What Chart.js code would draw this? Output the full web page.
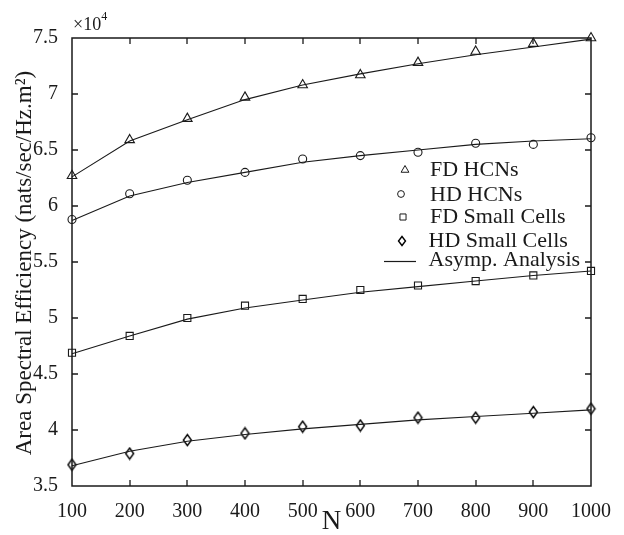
<!DOCTYPE html>
<html>
<head>
<meta charset="utf-8">
<script src="https://cdn.jsdelivr.net/npm/chart.js@4.4.1/dist/chart.umd.min.js"></script>
<style>
  html, body { margin: 0; padding: 0; background: #fff; }
</style>
</head>
<body>
<canvas id="chart" width="624" height="535"></canvas>
<script>
// N values on the x axis
const nValues = [100, 200, 300, 400, 500, 600, 700, 800, 900, 1000];

// simulation markers (x 10^4)
const fdHcnSim   = [6.27, 6.59, 6.78, 6.97, 7.08, 7.17, 7.28, 7.38, 7.45, 7.50];
const hdHcnSim   = [5.88, 6.11, 6.23, 6.30, 6.42, 6.45, 6.48, 6.56, 6.55, 6.61];
const fdSmallSim = [4.69, 4.84, 5.00, 5.11, 5.17, 5.25, 5.29, 5.33, 5.38, 5.42];
const hdSmallSim = [3.69, 3.79, 3.91, 3.97, 4.03, 4.04, 4.11, 4.11, 4.16, 4.19];

// asymptotic analysis curves
const fdHcnAsym   = [6.26, 6.58, 6.77, 6.95, 7.08, 7.18, 7.27, 7.35, 7.42, 7.49];
const hdHcnAsym   = [5.87, 6.09, 6.21, 6.30, 6.39, 6.45, 6.50, 6.55, 6.58, 6.60];
const fdSmallAsym = [4.68, 4.84, 4.99, 5.09, 5.16, 5.23, 5.28, 5.33, 5.38, 5.42];
const hdSmallAsym = [3.68, 3.81, 3.90, 3.96, 4.01, 4.05, 4.09, 4.12, 4.15, 4.18];

const legendLabels = ['FD HCNs', 'HD HCNs', 'FD Small Cells', 'HD Small Cells', 'Asymp. Analysis'];
const yTitle = 'Area Spectral Efficiency (nats/sec/Hz.m\u00b2)';

const serif = '"Liberation Serif", "Times New Roman", serif';
const ink = '#1a1a1a';

// tall narrow diamond marker
function makeDiamond(w, h) {
    const c = document.createElement('canvas');
    c.width = w + 3;
    c.height = h + 3;
    const g = c.getContext('2d');
    g.strokeStyle = '#000';
    g.lineWidth = 1.4;
    g.beginPath();
    g.moveTo(c.width / 2, 1.5);
    g.lineTo(c.width - 1.5, c.height / 2);
    g.lineTo(c.width / 2, c.height - 1.5);
    g.lineTo(1.5, c.height / 2);
    g.closePath();
    g.stroke();
    return c;
}
const diamond = makeDiamond(8, 11);
const smallDiamond = makeDiamond(7, 9);

function pts(values) {
    return values.map((v, i) => ({ x: nValues[i], y: v }));
}

function lineSet(values) {
    return {
        data: pts(values),
        showLine: true,
        borderColor: ink,
        borderWidth: 1.1,
        pointRadius: 0,
        fill: false,
        tension: 0,
        clip: false
    };
}

function markerSet(values, style, radius) {
    return {
        data: pts(values),
        showLine: false,
        pointStyle: style,
        pointRadius: radius,
        pointBorderWidth: 1.1,
        pointBorderColor: ink,
        pointBackgroundColor: 'rgba(0,0,0,0)',
        clip: false
    };
}

const markerDefs = [
    { style: 'triangle', radius: 5.5 },
    { style: 'circle', radius: 4 },
    { style: 'rect', radius: 5 },
    { style: diamond, radius: 5 }
];
const legendMarkers = [
    { style: 'triangle', radius: 4.5, x: 405, y: 170 },
    { style: 'circle', radius: 3.4, x: 401, y: 194 },
    { style: 'rect', radius: 4.3, x: 403, y: 217 },
    { style: smallDiamond, radius: 4, x: 402, y: 241 }
];
const legendBaselines = [176, 201, 223, 247, 266];

// frame, inward ticks, exponent, y title and legend
const decorPlugin = {
    id: 'decor',
    afterDraw(chart) {
        const ctx = chart.ctx;
        const a = chart.chartArea;
        const xs = chart.scales.x;
        const ys = chart.scales.y;
        const L = Math.round(a.left);
        const R = Math.round(a.right);
        const T = Math.round(a.top);
        const B = Math.round(a.bottom);
        const tick = 6;
        ctx.save();
        ctx.strokeStyle = ink;
        ctx.fillStyle = ink;

        // box
        ctx.lineWidth = 1.5;
        ctx.strokeRect(L, T, R - L, B - T);

        // inward ticks
        ctx.lineWidth = 1.3;
        ctx.beginPath();
        for (let v = 200; v < 1000; v += 100) {
            const px = Math.round(xs.getPixelForValue(v));
            ctx.moveTo(px, B);
            ctx.lineTo(px, B - tick);
            ctx.moveTo(px, T);
            ctx.lineTo(px, T + tick);
        }
        for (let v = 4; v < 7.5; v += 0.5) {
            const py = Math.round(ys.getPixelForValue(v));
            ctx.moveTo(L, py);
            ctx.lineTo(L + tick, py);
            ctx.moveTo(R, py);
            ctx.lineTo(R - tick, py);
        }
        ctx.stroke();

        // x10^4 exponent label
        ctx.textBaseline = 'middle';
        ctx.textAlign = 'left';
        ctx.font = '18px ' + serif;
        ctx.fillText('\u00d710', L + 1, T - 13);
        const w = ctx.measureText('\u00d710').width;
        ctx.font = '12px ' + serif;
        ctx.fillText('4', L + 1 + w, T - 21);

        // y axis title
        ctx.save();
        ctx.translate(31, 263);
        ctx.rotate(-Math.PI / 2);
        ctx.textAlign = 'center';
        ctx.textBaseline = 'alphabetic';
        ctx.font = '23px ' + serif;
        ctx.fillText(yTitle, 0, 0);
        ctx.restore();

        // legend inside the plot
        ctx.font = '22px ' + serif;
        ctx.textAlign = 'left';
        ctx.textBaseline = 'alphabetic';
        ctx.lineWidth = 1;
        for (let i = 0; i < legendLabels.length; i++) {
            if (i < 4) {
                const m = legendMarkers[i];
                ctx.fillStyle = 'rgba(0,0,0,0)';
                ctx.strokeStyle = ink;
                Chart.helpers.drawPoint(ctx, {
                    pointStyle: m.style,
                    radius: m.radius,
                    borderWidth: 1.1,
                    rotation: 0
                }, m.x, m.y);
            } else {
                ctx.strokeStyle = ink;
                ctx.lineWidth = 1.2;
                ctx.beginPath();
                ctx.moveTo(384, 261.5);
                ctx.lineTo(416, 261.5);
                ctx.stroke();
            }
            ctx.fillStyle = ink;
            ctx.fillText(legendLabels[i], i < 3 ? 430 : 428.5, legendBaselines[i]);
        }
        ctx.restore();
    }
};

const ctx = document.getElementById('chart').getContext('2d');
new Chart(ctx, {
    type: 'scatter',
    data: {
        datasets: [
            lineSet(fdHcnAsym),
            lineSet(hdHcnAsym),
            lineSet(fdSmallAsym),
            lineSet(hdSmallAsym),
            markerSet(fdHcnSim, markerDefs[0].style, markerDefs[0].radius),
            markerSet(hdHcnSim, markerDefs[1].style, markerDefs[1].radius),
            markerSet(fdSmallSim, markerDefs[2].style, markerDefs[2].radius),
            markerSet(hdSmallSim, markerDefs[3].style, markerDefs[3].radius)
        ]
    },
    options: {
        responsive: false,
        animation: false,
        layout: { padding: { left: 0, right: 33, top: 38, bottom: 0 } },
        plugins: {
            legend: { display: false },
            tooltip: { enabled: false }
        },
        scales: {
            x: {
                type: 'linear',
                min: 100,
                max: 1000,
                ticks: {
                    stepSize: 100,
                    color: ink,
                    padding: 6,
                    font: { family: serif, size: 20 },
                    callback: v => String(v)
                },
                grid: { display: false },
                border: { display: false },
                title: {
                    display: true,
                    text: 'N',
                    color: ink,
                    font: { family: serif, size: 27, lineHeight: 1 },
                    padding: 0
                },
                afterFit(scale) { scale.height = 49; }
            },
            y: {
                min: 3.5,
                max: 7.5,
                ticks: {
                    stepSize: 0.5,
                    color: ink,
                    padding: 6,
                    font: { family: serif, size: 20 },
                    callback: v => String(v)
                },
                grid: { display: false },
                border: { display: false },
                title: { display: false },
                afterFit(scale) { scale.width = 72; }
            }
        }
    },
    plugins: [decorPlugin]
});
</script>
</body>
</html>
